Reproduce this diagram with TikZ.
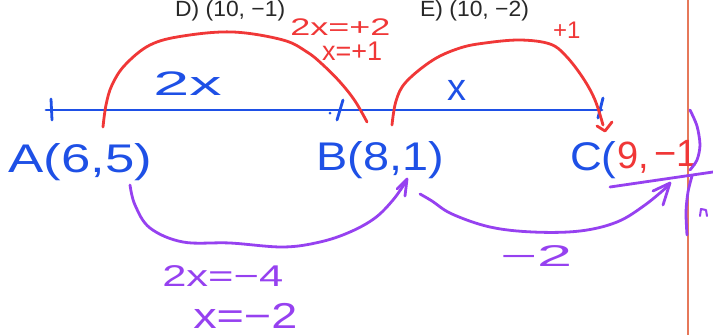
\documentclass[tikz,border=0pt]{standalone}
\usepackage{fontspec}
\setmainfont{Liberation Sans}
\definecolor{inkblue}{RGB}{30,80,230}
\definecolor{inkred}{RGB}{240,55,55}
\definecolor{inkpurple}{RGB}{150,65,240}
\definecolor{rule}{RGB}{230,120,90}
\definecolor{print}{RGB}{40,40,40}
\tikzset{
  pen/.style={line width=2.8pt, line cap=round, line join=round},
  bluepen/.style={pen, draw=inkblue},
  redpen/.style={pen, draw=inkred},
  purplepen/.style={pen, draw=inkpurple},
  hand/.style={inner sep=0pt, anchor=base west},
}
\newcommand{\fs}[1]{\fontsize{#1}{#1}\selectfont}
\begin{document}
\begin{tikzpicture}[x=1pt,y=-1pt]
\useasboundingbox (0,0) rectangle (713,335);
\fill[white] (0,0) rectangle (713,335);
% printed options at the top
\node[hand, text=print, font=\fs{22}, xscale=1.04] (optD) at (175,16) {D) (10, −1)};
\node[hand, text=print, font=\fs{22}, xscale=1.04] (optE) at (420,16) {E) (10, −2)};
% orange margin line
\draw[rule, line width=2pt] (688,0) -- (688,335);
% number line
\coordinate (lineL) at (46,110);
\coordinate (lineR) at (602,110);
\draw[bluepen] (lineL) -- (lineR);
\draw[bluepen] (51,99) -- (52,120);
\draw[bluepen] (337,120) -- (343,100);
\fill[inkblue] (330,113) circle (1.5);
\draw[bluepen] (598,118) -- (603,98);
% blue labels
\node[hand, text=inkblue, font=\fs{40}, xscale=1.32] (A) at (8,172) {A(6,5)};
\node[hand, text=inkblue, font=\fs{40}, xscale=1.17] (B) at (316,170) {B(8,1)};
\node[hand, text=inkblue, font=\fs{40}, xscale=1.1] (C) at (570,170) {C(};
\node[hand, text=inkred, font=\fs{38}] (C9) at (617,168) {9,};
\node[hand, text=inkred, font=\fs{38}] (C1) at (654,166) {−1};
\node[hand, text=inkblue, font=\fs{34}, xscale=1.9] (twox) at (153,95) {2x};
\node[hand, text=inkblue, font=\fs{38}] (onex) at (447,100) {x};
% red arcs
\draw[redpen] plot[smooth, tension=0.6] coordinates {(103,127) (106,105) (112,85) (125,65) (150,45) (183,36) (233,32) (283,40) (307,52) (322,64) (340,82) (355,101) (367,122)};
\draw[redpen] plot[smooth, tension=0.6] coordinates {(392,125) (396,101) (406,82) (433,60) (460,48) (485,43) (520,40) (550,44) (566,56) (583,78) (595,100) (603,125)};
\draw[redpen] (597,126) -- (605,131) -- (612,122);
\node[hand, text=inkred, font=\fs{24}, xscale=1.5] (eq1) at (290,35) {2x=+2};
\node[hand, text=inkred, font=\fs{27}] (eq2) at (322,60) {x=+1};
\node[hand, text=inkred, font=\fs{24}] (plus1) at (553,38) {+1};
% purple arcs
\draw[purplepen] plot[smooth, tension=0.6] coordinates {(130,185) (135,205) (150,228) (183,242) (230,243) (283,247) (320,242) (350,232) (375,218) (393,200) (405,183)};
\draw[purplepen] (397,189) -- (407,179) -- (405,196);
\draw[purplepen] plot[smooth, tension=0.6] coordinates {(420,194) (432,201) (452,214) (490,227) (533,232) (580,231) (617,222) (645,205) (668,186)};
\draw[purplepen] (653,191) -- (670,183) -- (663,205);
\draw[purplepen] (610,187) -- (713,172);
\draw[purplepen] plot[smooth] coordinates {(690,110) (697,126) (700,145) (697,160) (690,170)};
\draw[purplepen] plot[smooth] coordinates {(692,176) (688,192) (686,212) (687,235)};
\draw[purplepen, line width=2pt] (700,216) -- (701,209) -- (706,210) -- (707,216);
\node[hand, text=inkpurple, font=\fs{30}, xscale=1.45] (eq3) at (162,286) {2x=−4};
\node[hand, text=inkpurple, font=\fs{36}, xscale=1.3] (eq4) at (193,328) {x=−2};
\node[hand, text=inkpurple, font=\fs{30}, xscale=2.1] (m2) at (500,266) {−2};
\end{tikzpicture}
\end{document}
